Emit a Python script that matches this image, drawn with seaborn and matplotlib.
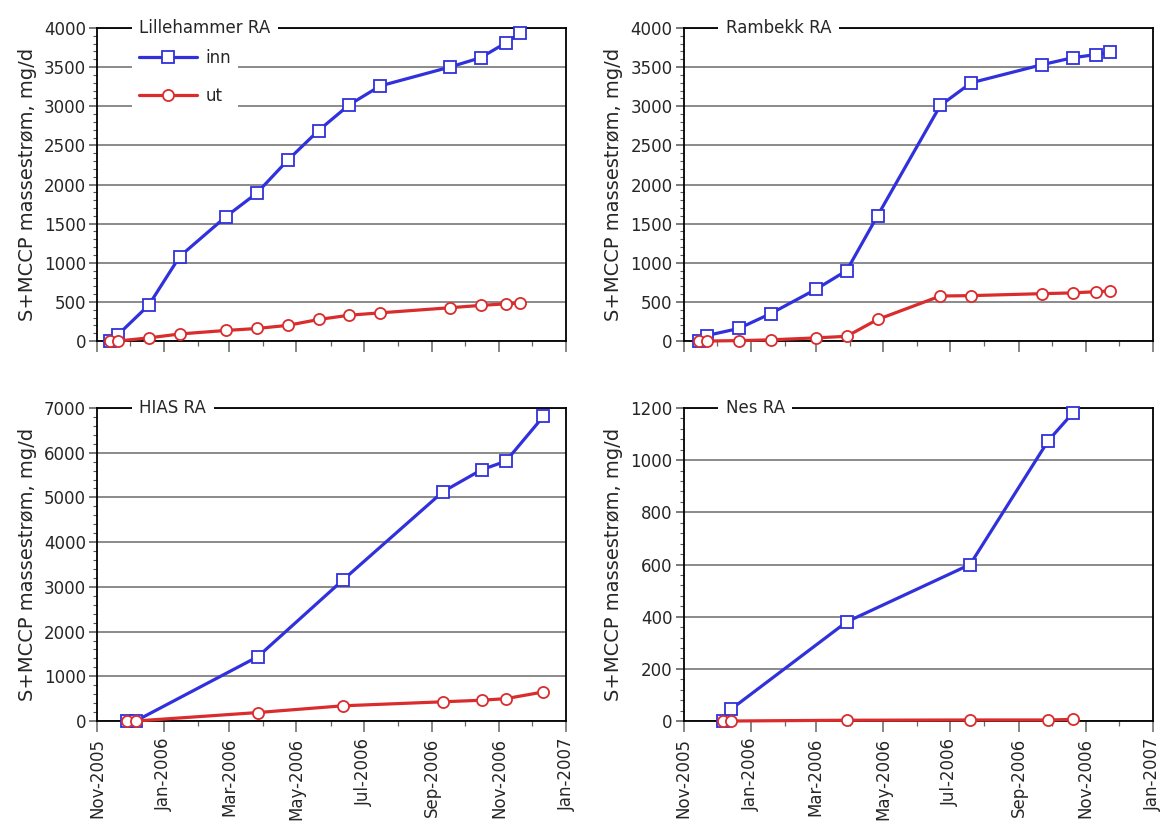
import matplotlib
matplotlib.use("Agg")
import matplotlib.pyplot as plt
import matplotlib.dates as mdates
from matplotlib.ticker import MultipleLocator, AutoMinorLocator
import pandas as pd
import seaborn as sns

# --- S+MCCP mass flow per plant, inlet ("inn") and outlet ("ut") ---
lille_dates = ["2005-11-13", "2005-11-20", "2005-12-18", "2006-01-15", "2006-02-26",
               "2006-03-26", "2006-04-23", "2006-05-21", "2006-06-18", "2006-07-16",
               "2006-09-17", "2006-10-15", "2006-11-07", "2006-11-20"]
lille_inn = [0, 80, 460, 1080, 1590, 1890, 2310, 2690, 3020, 3260, 3500, 3620, 3810, 3940]
lille_ut = [0, 0, 40, 90, 135, 160, 200, 275, 330, 360, 425, 455, 475, 485]

rambekk_dates = ["2005-11-15", "2005-11-22", "2005-12-21", "2006-01-19", "2006-03-01",
                 "2006-03-29", "2006-04-26", "2006-06-22", "2006-07-20", "2006-09-22",
                 "2006-10-20", "2006-11-10", "2006-11-23"]
rambekk_inn = [0, 70, 160, 350, 660, 900, 1600, 3010, 3300, 3530, 3620, 3660, 3690]
rambekk_ut = [0, 0, 5, 15, 40, 60, 275, 575, 580, 605, 615, 630, 640]

hias_dates = ["2005-11-28", "2005-12-06", "2006-03-27", "2006-06-12", "2006-09-11",
              "2006-10-16", "2006-11-07", "2006-12-11"]
hias_inn = [0, 0, 1440, 3150, 5130, 5620, 5810, 6810]
hias_ut = [0, 0, 190, 340, 430, 465, 500, 650]

nes_dates = ["2005-12-07", "2005-12-14", "2006-03-29", "2006-07-19", "2006-09-28", "2006-10-20"]
nes_inn = [0, 45, 380, 600, 1075, 1180]
nes_ut = [0, 0, 3, 4, 4, 6]

panel_titles = ["Lillehammer RA", "Rambekk RA", "HIAS RA", "Nes RA"]
series_names = ["inn", "ut"]
y_max = [4000, 4000, 7000, 1200]
y_step = [500, 500, 1000, 200]
y_label = "S+MCCP massestrøm, mg/d"

panels = [
    (lille_dates, lille_inn, lille_ut),
    (rambekk_dates, rambekk_inn, rambekk_ut),
    (hias_dates, hias_inn, hias_ut),
    (nes_dates, nes_inn, nes_ut),
]

BLUE = "#3030DC"
RED = "#DA2C2C"

sns.set_theme(style="white")
plt.rcParams["font.family"] = ["DejaVu Sans"]
plt.rcParams["font.size"] = 12

fig, axes = plt.subplots(2, 2, figsize=(11.65, 8.26), dpi=100, sharex=True)
fig.subplots_adjust(left=0.0833, right=0.9897, top=0.9661, bottom=0.1271,
                    wspace=0.2495, hspace=0.214)

for k, (ax, (dates, inn, ut)) in enumerate(zip(axes.flat, panels)):
    df = pd.DataFrame({"dato": pd.to_datetime(dates), "inn": inn, "ut": ut})
    sns.lineplot(data=df, x="dato", y="inn", ax=ax, color=BLUE, lw=2.3,
                 marker="s", ms=8.5, mfc="white", mec=BLUE, mew=1.3,
                 label=series_names[0], clip_on=False, zorder=4)
    sns.lineplot(data=df, x="dato", y="ut", ax=ax, color=RED, lw=2.3,
                 marker="o", ms=8, mfc="white", mec=RED, mew=1.3,
                 label=series_names[1], clip_on=False, zorder=5)

    ax.set_ylim(0, y_max[k])
    ax.yaxis.set_major_locator(MultipleLocator(y_step[k]))
    ax.yaxis.set_minor_locator(AutoMinorLocator(5))
    ax.set_xlim(pd.Timestamp("2005-11-01"), pd.Timestamp("2007-01-01"))
    ax.xaxis.set_major_locator(mdates.MonthLocator(bymonth=[1, 3, 5, 7, 9, 11]))
    ax.xaxis.set_minor_locator(mdates.MonthLocator())
    ax.xaxis.set_major_formatter(mdates.DateFormatter("%b-%Y"))

    ax.yaxis.grid(True, color="#8a8a8a", lw=1.4)
    ax.set_axisbelow(True)
    for sp in ax.spines.values():
        sp.set_color("black")
        sp.set_linewidth(1.3)
        sp.set_visible(True)

    ax.tick_params(axis="y", which="major", direction="out", length=6, width=1.1,
                   color="#555555", labelsize=12, pad=2, left=True)
    ax.tick_params(axis="y", which="minor", direction="out", length=3, width=0.8,
                   color="#555555", left=True)
    ax.tick_params(axis="x", which="major", direction="out", length=8, width=1.1,
                   color="#666666", labelsize=12, pad=4, bottom=True)
    ax.tick_params(axis="x", which="minor", direction="out", length=3.5, width=0.9,
                   color="#666666", bottom=True)
    for lab in ax.get_xticklabels():
        lab.set_rotation(90)

    ax.set_xlabel("")
    ax.set_ylabel(y_label, fontsize=14, labelpad=5)

    ax.text(0.09, 1.0, panel_titles[k], transform=ax.transAxes, ha="left",
            va="center", fontsize=12, zorder=6, clip_on=False,
            bbox=dict(boxstyle="square,pad=0.45", fc="white", ec="none"))

    if k == 0:
        ax.legend(loc="upper left", bbox_to_anchor=(0.075, 0.955), borderaxespad=0,
                  frameon=True, facecolor="white", edgecolor="none", framealpha=1,
                  fancybox=False, handlelength=3.5, handletextpad=0.5,
                  labelspacing=1.2, borderpad=0.4, fontsize=12)
    else:
        ax.get_legend().remove()

fig.savefig("out.png", dpi=100)
